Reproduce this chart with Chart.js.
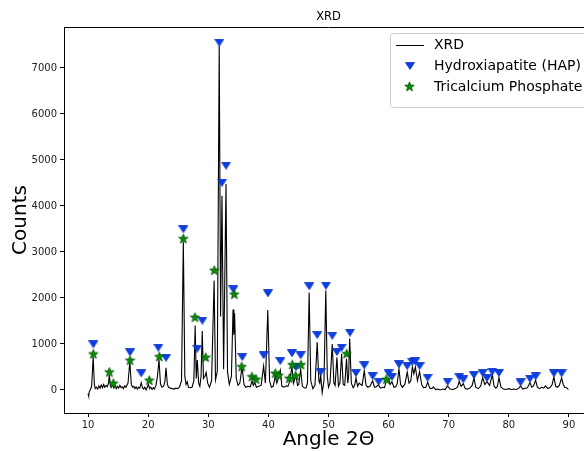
<!DOCTYPE html>
<html>
<head>
<meta charset="utf-8">
<script src="https://cdn.jsdelivr.net/npm/chart.js@4/dist/chart.umd.min.js"></script>
<style>
  html, body { margin: 0; padding: 0; background: #fff; overflow: hidden; }
  #wrap { width: 584px; height: 451px; overflow: hidden; }
</style>
</head>
<body>
<div id="wrap"><canvas id="xrdChart" width="600" height="451"></canvas></div>
<script>
// XRD pattern, [angle 2theta, counts]
const xrdPoints = [
  [10.0,-80],[10.1,-130],[10.2,-40],[10.4,10],[10.6,80],[10.85,720],[11.05,120],[11.2,30],[11.4,60],[11.6,20],
  [11.8,90],[12.0,40],[12.2,110],[12.4,50],[12.6,120],[12.8,60],[13.0,100],[13.2,70],[13.4,150],[13.55,330],
  [13.7,100],[13.9,60],[14.1,130],[14.3,40],[14.5,90],[14.7,30],[14.9,80],[15.1,40],[15.3,100],[15.5,50],
  [15.7,70],[15.9,30],[16.1,90],[16.3,60],[16.65,150],[16.95,620],[17.2,120],[17.4,60],[17.6,80],[17.8,30],
  [18.0,70],[18.2,20],[18.4,60],[18.6,40],[18.85,160],[19.05,50],[19.25,20],[19.45,60],[19.65,0],[19.85,60],
  [20.05,120],[20.25,30],[20.45,60],[20.65,10],[20.85,50],[21.05,20],[21.3,100],[21.55,300],[21.8,660],[22.05,130],
  [22.3,60],[22.6,90],[22.8,200],[22.97,480],[23.2,120],[23.4,60],[23.7,40],[24.0,30],[24.3,20],[24.6,40],
  [24.9,30],[25.2,60],[25.55,200],[25.85,3220],[26.1,300],[26.3,120],[26.5,180],[26.7,60],[27.0,50],[27.3,60],
  [27.6,200],[27.82,1400],[28.0,250],[28.17,650],[28.4,150],[28.6,80],[28.8,300],[29.0,1280],[29.2,250],[29.45,300],
  [29.65,380],[29.9,150],[30.2,60],[30.55,200],[30.97,2380],[31.2,220],[31.5,400],[31.82,7480],[32.05,1600],[32.28,4220],
  [32.55,450],[32.95,4480],[33.2,400],[33.5,120],[33.85,300],[34.12,1750],[34.25,1200],[34.38,1670],[34.65,250],[34.95,100],
  [35.25,150],[35.62,500],[35.95,120],[36.25,60],[36.6,80],[37.0,70],[37.27,200],[37.5,100],[37.75,160],[38.0,60],
  [38.4,80],[38.8,100],[39.2,520],[39.5,150],[39.9,1740],[40.2,200],[40.5,60],[40.8,80],[41.15,300],[41.4,150],
  [41.65,250],[41.98,430],[42.25,80],[42.6,60],[43.0,90],[43.25,80],[43.5,170],[43.92,500],[44.2,150],[44.4,250],
  [44.58,320],[44.85,100],[45.05,120],[45.37,450],[45.65,80],[45.95,50],[46.25,40],[46.5,150],[46.78,2120],[47.05,200],
  [47.4,30],[47.75,100],[48.12,1040],[48.4,200],[48.55,150],[48.7,320],[48.95,-60],[49.25,200],[49.55,2160],[49.8,300],
  [50.0,60],[50.25,150],[50.62,1000],[50.9,150],[51.1,100],[51.4,710],[51.65,80],[51.9,150],[52.18,780],[52.45,120],
  [52.7,100],[53.0,680],[53.2,150],[53.35,300],[53.52,1120],[53.8,150],[54.1,50],[54.35,100],[54.57,260],[54.85,80],
  [55.1,150],[55.35,120],[55.6,100],[55.95,420],[56.25,100],[56.55,60],[56.9,80],[57.35,200],[57.65,60],[57.95,70],
  [58.3,110],[58.65,40],[59.0,60],[59.3,50],[59.6,180],[60.0,250],[60.25,120],[60.55,180],[60.9,60],[61.2,70],
  [61.45,150],[61.72,460],[62.0,120],[62.3,60],[62.7,120],[63.1,390],[63.4,150],[63.7,200],[63.95,500],[64.2,350],
  [64.45,500],[64.8,200],[65.15,400],[65.5,120],[65.8,50],[66.2,60],[66.5,170],[66.85,40],[67.2,30],[67.45,70],
  [67.8,10],[68.2,20],[68.6,0],[69.0,20],[69.4,10],[69.8,90],[70.2,20],[70.7,10],[71.1,30],[71.45,60],
  [71.75,190],[72.05,80],[72.42,140],[72.75,30],[73.1,20],[73.5,40],[73.9,100],[74.2,260],[74.5,60],[74.9,30],
  [75.3,80],[75.65,270],[76.0,120],[76.36,180],[76.8,100],[77.25,330],[77.55,80],[77.85,40],[78.1,80],[78.35,270],
  [78.7,60],[79.1,20],[79.5,10],[80.0,30],[80.4,10],[80.8,20],[81.2,10],[81.6,30],[81.95,90],[82.3,20],
  [82.7,40],[83.1,50],[83.5,160],[83.8,60],[84.1,90],[84.45,210],[84.75,60],[85.1,30],[85.5,60],[85.8,40],
  [86.1,90],[86.5,30],[86.9,60],[87.2,120],[87.5,280],[87.8,80],[88.1,60],[88.4,100],[88.78,260],[89.05,120],
  [89.3,60],[89.6,50],[89.9,10]
];

// Hydroxiapatite (HAP) peak markers
const hapAngles = [10.88, 16.98, 18.86, 21.69, 22.97, 25.85, 28.17, 29.01, 31.83, 32.28, 32.95, 34.16,
  35.66, 39.22, 39.93, 41.98, 43.92, 44.59, 45.37, 46.80, 48.12, 48.70, 49.58, 50.63, 51.41, 52.19,
  53.57, 54.57, 55.95, 57.35, 58.34, 60.01, 60.56, 61.72, 63.10, 63.93, 64.43, 65.16, 66.49, 69.82,
  71.75, 72.42, 74.19, 75.64, 76.36, 77.24, 78.35, 81.96, 83.51, 84.46, 87.50, 88.78];
const hapCounts = [994, 820, 363, 920, 700, 3494, 898, 1507, 7550, 4507, 4876, 2189,
  717, 754, 2102, 630, 798, 500, 754, 2254, 1196, 391, 2268, 1180, 826, 920,
  1246, 370, 537, 304, 180, 363, 289, 559, 522, 615, 624, 522, 267, 180,
  289, 233, 326, 370, 261, 398, 370, 167, 246, 298, 363, 363];

// Tricalcium Phosphate peak markers
const tcpAngles = [10.88, 13.54, 14.20, 16.98, 20.19, 21.85, 25.85, 27.79, 29.57, 31.00, 34.33,
  35.56, 37.27, 37.94, 41.15, 41.71, 43.48, 43.98, 44.54, 45.42, 53.02, 59.61];
const tcpCounts = [783, 391, 146, 646, 211, 724, 3289, 1580, 711, 2602, 2080,
  507, 289, 233, 363, 320, 254, 550, 311, 550, 789, 233];

const xTicks = [10, 20, 30, 40, 50, 60, 70, 80, 90];
const yTicks = [0, 1000, 2000, 3000, 4000, 5000, 6000, 7000];

const FONT = "'DejaVu Sans', sans-serif";
const HAP_BLUE = "#0b3fe6";
const TCP_GREEN = "#0a8a0a";

// marker images
function makeTriangle() {
  const c = document.createElement("canvas");
  c.width = 10; c.height = 8;
  const g = c.getContext("2d");
  g.beginPath();
  g.moveTo(0.5, 0.5); g.lineTo(9.5, 0.5); g.lineTo(5, 7.5); g.closePath();
  g.fillStyle = HAP_BLUE; g.fill();
  g.strokeStyle = "#0a34c0"; g.lineWidth = 0.8; g.stroke();
  return c;
}
function makeStar() {
  const c = document.createElement("canvas");
  c.width = 11; c.height = 11;
  const g = c.getContext("2d");
  const cx = 5.5, cy = 5.8, ro = 5, ri = 2.1;
  g.beginPath();
  for (let i = 0; i < 10; i++) {
    const r = i % 2 === 0 ? ro : ri;
    const a = -Math.PI / 2 + i * Math.PI / 5;
    const px = cx + r * Math.cos(a), py = cy + r * Math.sin(a);
    if (i === 0) g.moveTo(px, py); else g.lineTo(px, py);
  }
  g.closePath();
  g.fillStyle = TCP_GREEN; g.fill();
  g.strokeStyle = "#005a00"; g.lineWidth = 0.8; g.stroke();
  return c;
}
const triImg = makeTriangle();
const starImg = makeStar();

const decorPlugin = {
  id: "decor",
  afterDraw(chart) {
    const ctx = chart.ctx;
    const a = chart.chartArea;
    ctx.save();
    // top and right spines
    ctx.strokeStyle = "#000";
    ctx.lineWidth = 1;
    ctx.beginPath();
    ctx.moveTo(a.left, a.top + 0.5); ctx.lineTo(a.right, a.top + 0.5);
    ctx.moveTo(a.right - 0.5, a.top); ctx.lineTo(a.right - 0.5, a.bottom);
    ctx.stroke();

    // title
    ctx.fillStyle = "#000";
    ctx.textAlign = "center";
    ctx.textBaseline = "middle";
    ctx.font = "11.5px " + FONT;
    ctx.fillText("XRD", (a.left + a.right) / 2, 17);

    // axis labels
    ctx.font = "20px " + FONT;
    ctx.fillText("Angle 2\u0398", (a.left + a.right) / 2, 440);
    ctx.save();
    ctx.translate(21, (a.top + a.bottom) / 2);
    ctx.rotate(-Math.PI / 2);
    ctx.fillText("Counts", 0, 0);
    ctx.restore();

    // legend
    const lx = 390, ly = 33, lw = 210, lh = 74;
    ctx.fillStyle = "rgba(255,255,255,0.85)";
    ctx.strokeStyle = "#cccccc";
    ctx.lineWidth = 1;
    ctx.beginPath();
    ctx.roundRect(lx + 0.5, ly + 0.5, lw, lh, 3);
    ctx.fill();
    ctx.stroke();

    ctx.strokeStyle = "#000";
    ctx.lineWidth = 1;
    ctx.beginPath();
    ctx.moveTo(396, 45.5); ctx.lineTo(424, 45.5);
    ctx.stroke();
    ctx.drawImage(triImg, 405, 62);
    ctx.drawImage(starImg, 404, 81);

    ctx.fillStyle = "#000";
    ctx.textAlign = "left";
    ctx.font = "14px " + FONT;
    ctx.fillText("XRD", 434, 45);
    ctx.fillText("Hydroxiapatite (HAP)", 434, 66);
    ctx.fillText("Tricalcium Phosphate", 434, 87);
    ctx.restore();
  }
};

const ctx = document.getElementById("xrdChart").getContext("2d");
new Chart(ctx, {
  type: "scatter",
  data: {
    datasets: [
      {
        label: "Tricalcium Phosphate",
        data: tcpAngles.map((x, i) => ({ x: x, y: tcpCounts[i] })),
        pointStyle: starImg,
        pointRadius: 5,
        order: 1
      },
      {
        label: "Hydroxiapatite (HAP)",
        data: hapAngles.map((x, i) => ({ x: x, y: hapCounts[i] })),
        pointStyle: triImg,
        pointRadius: 5,
        order: 2
      },
      {
        label: "XRD",
        data: xrdPoints.map(p => ({ x: p[0], y: p[1] })),
        showLine: true,
        borderColor: "#000",
        borderWidth: 1.1,
        pointRadius: 0,
        tension: 0,
        order: 3
      }
    ]
  },
  options: {
    responsive: false,
    animation: false,
    devicePixelRatio: 1,
    layout: { padding: { top: 27, right: 7, left: 0, bottom: 0 } },
    plugins: {
      legend: { display: false },
      title: { display: false },
      tooltip: { enabled: false }
    },
    scales: {
      x: {
        type: "linear",
        min: 6,
        max: 94,
        afterFit: s => { s.height = 38; },
        afterBuildTicks: s => { s.ticks = xTicks.map(v => ({ value: v })); },
        grid: { drawOnChartArea: false, drawTicks: true, tickLength: 4, color: "#000" },
        border: { display: true, color: "#000", width: 1 },
        ticks: { color: "#222", padding: 2, font: { family: FONT, size: 10 }, maxRotation: 0, callback: v => String(v) }
      },
      y: {
        type: "linear",
        min: -500,
        max: 7890,
        afterFit: s => { s.width = 64; },
        afterBuildTicks: s => { s.ticks = yTicks.map(v => ({ value: v })); },
        grid: { drawOnChartArea: false, drawTicks: true, tickLength: 4, color: "#000" },
        border: { display: true, color: "#000", width: 1 },
        ticks: { color: "#222", padding: 3, font: { family: FONT, size: 10 }, callback: v => String(v) }
      }
    }
  },
  plugins: [decorPlugin]
});
</script>
</body>
</html>
